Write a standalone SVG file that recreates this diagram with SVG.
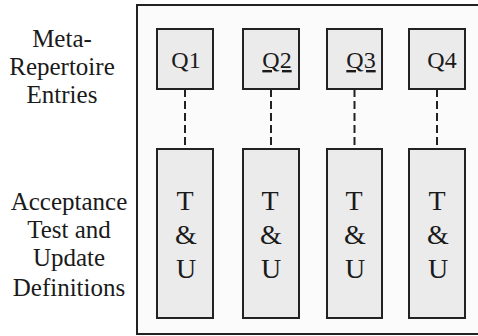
<svg xmlns="http://www.w3.org/2000/svg" width="478" height="336" viewBox="0 0 478 336">
<style>
.box{fill:#ebebeb;stroke:#222;stroke-width:2}
text{fill:#1a1a1a;text-anchor:middle}
.q{font-size:24px}
.tu{font-size:28px}
.lab{font-size:25px}
.dash{stroke:#222;stroke-width:2;stroke-dasharray:8 4;fill:none}
</style>
<rect x="0" y="0" width="478" height="336" fill="#ffffff"/>
<g font-family="Liberation Serif, DejaVu Serif, serif">
<rect id="frame" x="137" y="5" width="345" height="329" fill="#fbfbfb" stroke="#222" stroke-width="2"/>
<g id="labels">
<text class="lab" x="62" y="47">Meta-</text>
<text class="lab" x="62" y="75">Repertoire</text>
<text class="lab" x="62" y="103">Entries</text>
<text class="lab" x="69" y="210">Acceptance</text>
<text class="lab" x="69" y="238">Test and</text>
<text class="lab" x="69" y="266">Update</text>
<text class="lab" x="69" y="296">Definitions</text>
</g>
<g id="connectors">
<line class="dash" x1="185" y1="89" x2="185" y2="149"/>
<line class="dash" x1="271" y1="89" x2="271" y2="149"/>
<line class="dash" x1="354.5" y1="89" x2="354.5" y2="149"/>
<line class="dash" x1="437" y1="89" x2="437" y2="149"/>
</g>
<g id="q1"><rect class="box" x="157" y="29" width="56" height="60"/><text class="q" x="186" y="68">Q1</text></g>
<g id="q2"><rect class="box" x="243" y="29" width="56" height="60"/><text class="q" x="277" y="68" text-decoration="underline">Q2</text></g>
<g id="q3"><rect class="box" x="327" y="29" width="55" height="60"/><text class="q" x="361" y="68" text-decoration="underline">Q3</text></g>
<g id="q4"><rect class="box" x="409" y="29" width="56" height="60"/><text class="q" x="442" y="68">Q4</text></g>
<g id="tu1"><rect class="box" x="157" y="149" width="56" height="169"/><text class="tu" x="185" y="210">T</text><text class="tu" x="186" y="244">&amp;</text><text class="tu" x="186" y="278">U</text></g>
<g id="tu2"><rect class="box" x="243" y="149" width="56" height="169"/><text class="tu" x="270" y="210">T</text><text class="tu" x="271" y="244">&amp;</text><text class="tu" x="271" y="278">U</text></g>
<g id="tu3"><rect class="box" x="327" y="149" width="55" height="169"/><text class="tu" x="354" y="210">T</text><text class="tu" x="355" y="244">&amp;</text><text class="tu" x="355" y="278">U</text></g>
<g id="tu4"><rect class="box" x="409" y="149" width="56" height="169"/><text class="tu" x="437" y="210">T</text><text class="tu" x="438" y="244">&amp;</text><text class="tu" x="438" y="278">U</text></g>
</g>
</svg>
